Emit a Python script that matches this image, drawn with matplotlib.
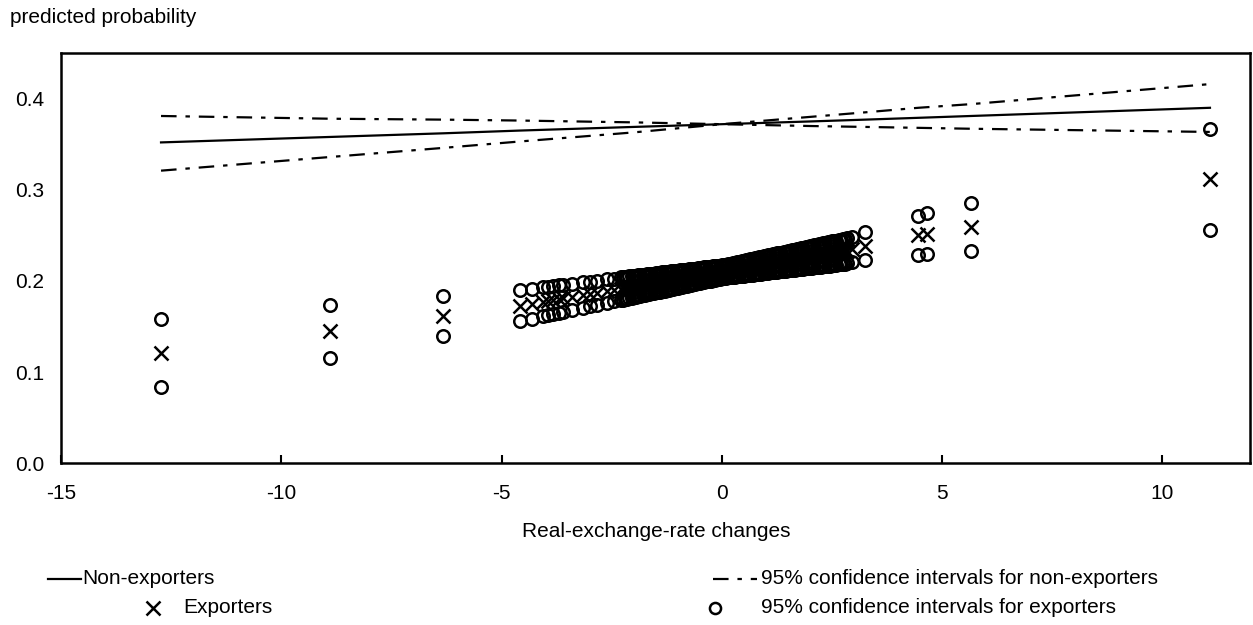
import numpy as np
import matplotlib
matplotlib.use('Agg')
import matplotlib.pyplot as plt
from matplotlib.lines import Line2D

plt.rcParams['font.family'] = ['Liberation Sans', 'DejaVu Sans']

# exporters: real-exchange-rate change, predicted probability, half width of 95% CI
exp_x = [-12.73, -8.89, -6.32,
         -4.59, -4.32, -4.07, -3.95, -3.84, -3.70, -3.60, -3.41, -3.16, -3.00, -2.84, -2.61, -2.45,
         -2.30, -2.25, -2.20, -2.15, -2.10, -2.05, -2.00, -1.95, -1.90, -1.85,
         -1.80, -1.75, -1.70, -1.65, -1.60, -1.55, -1.50, -1.45, -1.40, -1.35,
         -1.30, -1.25, -1.20, -1.15, -1.10, -1.05, -1.00, -0.95, -0.90, -0.85,
         -0.80, -0.75, -0.70, -0.65, -0.60, -0.55, -0.50, -0.45, -0.40, -0.35,
         -0.30, -0.25, -0.20, -0.15, -0.10, -0.05, 0.00, 0.05, 0.10, 0.15,
         0.20, 0.25, 0.30, 0.35, 0.40, 0.45, 0.50, 0.55, 0.60, 0.65,
         0.70, 0.75, 0.80, 0.85, 0.90, 0.95, 1.00, 1.05, 1.10, 1.15,
         1.20, 1.25, 1.30, 1.35, 1.40, 1.45, 1.50, 1.55, 1.60, 1.65,
         1.70, 1.75, 1.80, 1.85, 1.90, 1.95, 2.00, 2.05, 2.10, 2.15,
         2.20, 2.25, 2.30, 2.35, 2.40, 2.45, 2.50, 2.55, 2.60, 2.65,
         2.70, 2.75, 2.80, 2.85, 2.95, 3.25,
         4.46, 4.65, 5.65, 11.08]
exp_p = [0.1208, 0.1448, 0.1610,
         0.1728, 0.1750, 0.1770, 0.1780, 0.1789, 0.1800, 0.1808, 0.1824, 0.1844, 0.1857, 0.1870, 0.1889, 0.1902,
         0.1914, 0.1918, 0.1922, 0.1926, 0.1930, 0.1934, 0.1938, 0.1942, 0.1946, 0.1950,
         0.1954, 0.1958, 0.1962, 0.1966, 0.1970, 0.1974, 0.1979, 0.1983, 0.1987, 0.1991,
         0.1995, 0.1999, 0.2003, 0.2007, 0.2011, 0.2015, 0.2019, 0.2023, 0.2027, 0.2031,
         0.2035, 0.2039, 0.2043, 0.2047, 0.2051, 0.2055, 0.2060, 0.2064, 0.2068, 0.2072,
         0.2076, 0.2080, 0.2084, 0.2088, 0.2092, 0.2096, 0.2100, 0.2104, 0.2108, 0.2112,
         0.2116, 0.2120, 0.2124, 0.2128, 0.2132, 0.2136, 0.2141, 0.2145, 0.2149, 0.2153,
         0.2157, 0.2161, 0.2165, 0.2169, 0.2173, 0.2177, 0.2181, 0.2185, 0.2189, 0.2193,
         0.2197, 0.2201, 0.2205, 0.2209, 0.2213, 0.2217, 0.2222, 0.2226, 0.2230, 0.2234,
         0.2238, 0.2242, 0.2246, 0.2250, 0.2254, 0.2258, 0.2262, 0.2266, 0.2270, 0.2274,
         0.2278, 0.2282, 0.2286, 0.2290, 0.2294, 0.2298, 0.2303, 0.2307, 0.2311, 0.2315,
         0.2319, 0.2323, 0.2327, 0.2332, 0.2345, 0.2380,
         0.2500, 0.2518, 0.2591, 0.3113]
exp_hw = [0.0369, 0.0290, 0.0220,
          0.0171, 0.0165, 0.0160, 0.0157, 0.0154, 0.0151, 0.0149, 0.0145, 0.0140, 0.0136, 0.0132, 0.0127, 0.0124,
          0.0125, 0.0124, 0.0123, 0.0122, 0.0120, 0.0119, 0.0118, 0.0117, 0.0116, 0.0114,
          0.0113, 0.0112, 0.0111, 0.0110, 0.0108, 0.0107, 0.0106, 0.0105, 0.0104, 0.0102,
          0.0101, 0.0100, 0.0099, 0.0098, 0.0096, 0.0095, 0.0094, 0.0093, 0.0092, 0.0090,
          0.0089, 0.0088, 0.0087, 0.0086, 0.0084, 0.0083, 0.0082, 0.0081, 0.0080, 0.0078,
          0.0077, 0.0076, 0.0075, 0.0074, 0.0072, 0.0071, 0.0070, 0.0071, 0.0072, 0.0074,
          0.0075, 0.0076, 0.0077, 0.0078, 0.0080, 0.0081, 0.0082, 0.0083, 0.0084, 0.0086,
          0.0087, 0.0088, 0.0089, 0.0090, 0.0092, 0.0093, 0.0094, 0.0095, 0.0096, 0.0098,
          0.0099, 0.0100, 0.0101, 0.0102, 0.0104, 0.0105, 0.0106, 0.0107, 0.0108, 0.0110,
          0.0111, 0.0112, 0.0113, 0.0114, 0.0116, 0.0117, 0.0118, 0.0119, 0.0120, 0.0122,
          0.0123, 0.0124, 0.0125, 0.0126, 0.0128, 0.0129, 0.0130, 0.0131, 0.0132, 0.0134,
          0.0135, 0.0136, 0.0137, 0.0138, 0.0142, 0.0155,
          0.0215, 0.0228, 0.0260, 0.0554]

# non-exporters: predicted probability and the two 95% CI lines
non_x = [-12.73, -8.89, -6.32, -4.59, -2.0, 0.0, 2.0, 3.25, 4.46, 5.65, 11.08]
non_p = [0.352, 0.358, 0.362, 0.365, 0.369, 0.372, 0.375, 0.377, 0.379, 0.381, 0.390]
non_ci_a = [0.381, 0.378, 0.377, 0.376, 0.374, 0.372, 0.370, 0.369, 0.368, 0.367, 0.3635]
non_ci_b = [0.321, 0.336, 0.346, 0.353, 0.363, 0.372, 0.380, 0.385, 0.390, 0.394, 0.416]

xticks = [-15, -10, -5, 0, 5, 10]
yticks = [0.0, 0.1, 0.2, 0.3, 0.4]

exp_lo = np.array(exp_p) - np.array(exp_hw)
exp_hi = np.array(exp_p) + np.array(exp_hw)

fig = plt.figure(figsize=(12.53, 6.25), dpi=100)
ax = fig.add_axes([0.0487, 0.259, 0.9493, 0.656])

dashdot = (0, (7, 4, 2, 4))
ax.plot(non_x, non_p, color='black', lw=1.6)
ax.plot(non_x, non_ci_a, color='black', lw=1.6, linestyle=dashdot)
ax.plot(non_x, non_ci_b, color='black', lw=1.6, linestyle=dashdot)

ax.plot(exp_x, exp_lo, 'o', ms=9, mfc='none', mec='black', mew=1.8, linestyle='none')
ax.plot(exp_x, exp_hi, 'o', ms=9, mfc='none', mec='black', mew=1.8, linestyle='none')
ax.plot(exp_x, exp_p, 'x', ms=10, mec='black', mew=1.8, linestyle='none')

ax.set_xlim(-15, 12)
ax.set_ylim(0, 0.45)
ax.set_xticks(xticks)
ax.set_xticklabels([str(t) for t in xticks])
ax.set_yticks(yticks)
ax.set_yticklabels(['%.1f' % t for t in yticks])
ax.tick_params(axis='x', direction='in', length=6, width=1.5, labelsize=15, pad=15)
ax.tick_params(axis='y', length=0, labelsize=15, pad=12)
for s in ax.spines.values():
    s.set_linewidth(1.8)

ax.set_xlabel('Real-exchange-rate changes', fontsize=15, labelpad=14)
fig.text(0.008, 0.972, 'predicted probability', fontsize=15, va='center', ha='left')

# legend drawn by hand to follow the original layout
fig.add_artist(Line2D([0.038, 0.065], [0.074, 0.074], color='black', lw=1.6))
fig.text(0.066, 0.074, 'Non-exporters', fontsize=15, va='center')
fig.add_artist(Line2D([0.569, 0.604], [0.074, 0.074], color='black', lw=1.6, linestyle=dashdot))
fig.text(0.607, 0.074, '95% confidence intervals for non-exporters', fontsize=15, va='center')
fig.add_artist(Line2D([0.1225], [0.028], marker='x', ms=10, mew=1.8, color='black'))
fig.text(0.146, 0.028, 'Exporters', fontsize=15, va='center')
fig.add_artist(Line2D([0.571], [0.028], marker='o', ms=8, mew=1.8, mfc='none', mec='black'))
fig.text(0.607, 0.028, '95% confidence intervals for exporters', fontsize=15, va='center')

fig.savefig('out.png', dpi=100)
